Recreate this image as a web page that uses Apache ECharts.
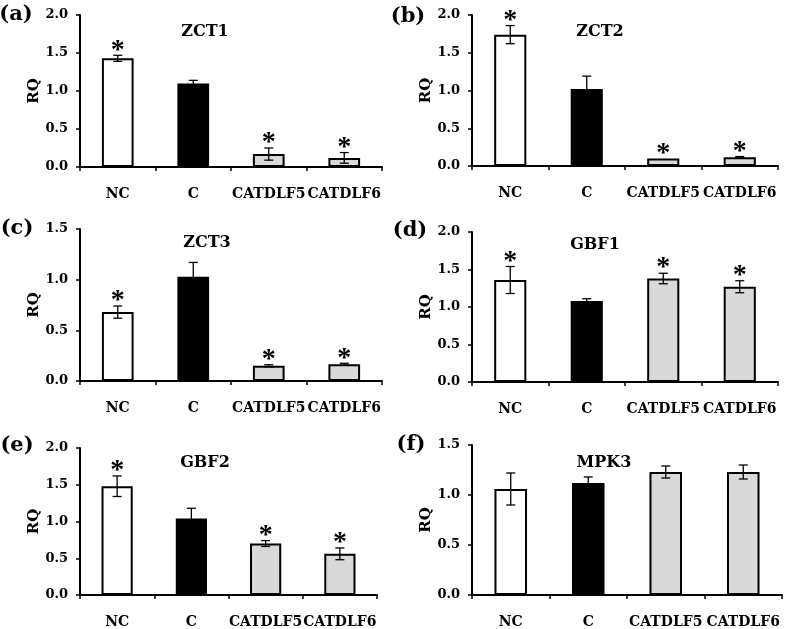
<!DOCTYPE html>
<html>
<head>
<meta charset="utf-8">
<script src="https://cdn.jsdelivr.net/npm/echarts@6/dist/echarts.min.js"></script>
<style>
html,body{margin:0;padding:0;background:#fff;}
#chart{width:787px;height:629px;}
</style>
</head>
<body>
<div id="chart"></div>
<script>
// ---- data ----
const categories = ['NC', 'C', 'CATDLF5', 'CATDLF6'];

const zct1Values = [1.43, 1.10, 0.17, 0.12];
const zct1Errors = [0.04, 0.04, 0.08, 0.07];
const zct1Sig    = [1, 0, 1, 1];

const zct2Values = [1.74, 1.02, 0.10, 0.115];
const zct2Errors = [0.12, 0.17, 0.0, 0.01];
const zct2Sig    = [1, 0, 1, 1];

const zct3Values = [0.68, 1.03, 0.15, 0.165];
const zct3Errors = [0.06, 0.14, 0.01, 0.01];
const zct3Sig    = [1, 0, 1, 1];

const gbf1Values = [1.36, 1.08, 1.38, 1.27];
const gbf1Errors = [0.18, 0.03, 0.07, 0.08];
const gbf1Sig    = [1, 0, 1, 1];

const gbf2Values = [1.48, 1.04, 0.70, 0.56];
const gbf2Errors = [0.14, 0.14, 0.04, 0.08];
const gbf2Sig    = [1, 0, 1, 1];

const mpk3Values = [1.06, 1.12, 1.23, 1.23];
const mpk3Errors = [0.16, 0.06, 0.06, 0.07];
const mpk3Sig    = [0, 0, 0, 0];

const panelTitles  = ['ZCT1', 'ZCT2', 'ZCT3', 'GBF1', 'GBF2', 'MPK3'];
const panelLetters = ['(a)', '(b)', '(c)', '(d)', '(e)', '(f)'];
const yMaxes       = [2.0, 2.0, 1.5, 2.0, 2.0, 1.5];
const yTickStep    = 0.5;

// ---- styles / layout ----
const fills = ['#ffffff', '#000000', '#d9d9d9', '#d9d9d9'];
const FONT = 'DejaVu Serif';
const grids = [
  {left: 80,  top: 15,  width: 302, height: 152},
  {left: 472, top: 15,  width: 306, height: 151},
  {left: 80,  top: 229, width: 302, height: 152},
  {left: 472, top: 232, width: 306, height: 150},
  {left: 80,  top: 448, width: 297, height: 152},
  {left: 472, top: 445, width: 310, height: 151}
];
const titlePos  = [[205, 32], [600, 32], [207, 243], [595, 245], [205, 463], [604, 463]];
const letterPos = [[16, 15], [408, 17], [17, 229], [410, 231], [17, 446], [411, 445]];

const panels = [
  [zct1Values, zct1Errors, zct1Sig],
  [zct2Values, zct2Errors, zct2Sig],
  [zct3Values, zct3Errors, zct3Sig],
  [gbf1Values, gbf1Errors, gbf1Sig],
  [gbf2Values, gbf2Errors, gbf2Sig],
  [mpk3Values, mpk3Errors, mpk3Sig]
];

const axisLine = {show: true, lineStyle: {color: '#000', width: 2}};
const xAxes = [], yAxes = [], series = [], graphics = [];

panels.forEach(([vals, errs, sig], p) => {
  xAxes.push({
    type: 'category', gridIndex: p, data: categories,
    axisLine: axisLine,
    axisTick: {show: true, length: 4, lineStyle: {color: '#000', width: 1.5}},
    axisLabel: {color: '#000', fontFamily: FONT, fontWeight: 'bold', fontSize: 14, margin: 20, interval: 0},
    boundaryGap: true
  });
  yAxes.push({
    type: 'value', gridIndex: p, min: 0, max: yMaxes[p], interval: yTickStep,
    name: 'RQ', nameLocation: 'middle', nameGap: 29, nameRotate: 90,
    nameTextStyle: {color: '#000', fontFamily: FONT, fontWeight: 'bold', fontSize: 15},
    axisLine: axisLine,
    axisTick: {show: true, length: 4, lineStyle: {color: '#000', width: 1.5}},
    axisLabel: {color: '#000', fontFamily: FONT, fontWeight: 'bold', fontSize: 13, margin: 12,
                formatter: v => v.toFixed(1)},
    splitLine: {show: false}
  });
  series.push({
    type: 'bar', xAxisIndex: p, yAxisIndex: p, barWidth: '42%',
    data: vals.map((v, i) => ({value: v, itemStyle: {color: fills[i], borderColor: '#000', borderWidth: 2}})),
    silent: true, animation: false
  });
  series.push({
    type: 'custom', xAxisIndex: p, yAxisIndex: p, z: 10, silent: true, animation: false,
    encode: {x: 0, y: 1},
    data: vals.map((v, i) => [i, v, errs[i], sig[i]]),
    renderItem: (params, api) => {
      const i = api.value(0), m = api.value(1), e = api.value(2), s = api.value(3);
      const top = api.coord([i, m + e]);
      const bot = api.coord([i, m - e]);
      const x = top[0];
      const cap = 4.5;
      const children = [];
      if (e > 0) {
        const ls = {stroke: '#000', lineWidth: 1.3};
        children.push({type: 'line', shape: {x1: x, y1: top[1], x2: x, y2: bot[1]}, style: ls});
        children.push({type: 'line', shape: {x1: x - cap, y1: top[1], x2: x + cap, y2: top[1]}, style: ls});
        children.push({type: 'line', shape: {x1: x - cap, y1: bot[1], x2: x + cap, y2: bot[1]}, style: ls});
      }
      if (s) {
        children.push({type: 'text', style: {text: '*', x: x, y: top[1] - 5,
          textAlign: 'center', textVerticalAlign: 'middle',
          font: 'bold 28px "Liberation Serif"', fill: '#000'}});
      }
      return {type: 'group', children};
    }
  });
  graphics.push({type: 'text', x: titlePos[p][0], y: titlePos[p][1],
    style: {text: panelTitles[p], textAlign: 'center', textVerticalAlign: 'middle',
            font: 'bold 16px "' + FONT + '"', fill: '#000'}});
  graphics.push({type: 'text', x: letterPos[p][0], y: letterPos[p][1],
    style: {text: panelLetters[p], textAlign: 'center', textVerticalAlign: 'middle',
            font: 'bold 21px "' + FONT + '"', fill: '#000'}});
});

const chart = echarts.init(document.getElementById('chart'), null, {renderer: 'canvas'});
chart.setOption({
  animation: false,
  backgroundColor: '#fff',
  grid: grids,
  xAxis: xAxes,
  yAxis: yAxes,
  series: series,
  graphic: graphics
});
</script>
</body>
</html>
